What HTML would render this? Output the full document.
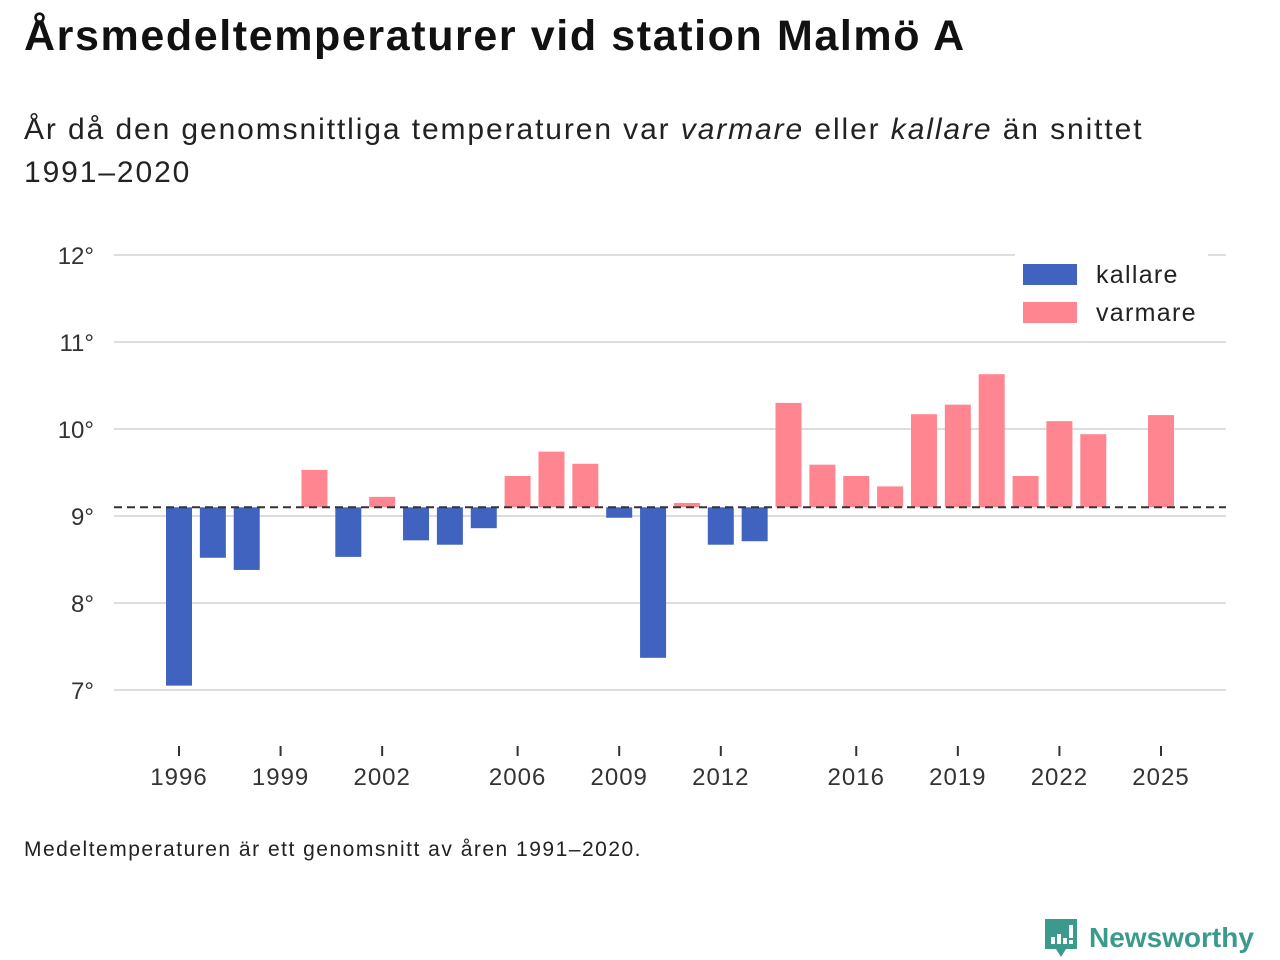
<!DOCTYPE html>
<html><head><meta charset="utf-8"><style>
body{margin:0;width:1280px;height:960px;background:#fff;font-family:"Liberation Sans",sans-serif;color:#111;position:relative;overflow:hidden}
#title{position:absolute;left:24px;top:12px;font-size:43px;font-weight:bold;margin:0;letter-spacing:1.6px}
#sub{position:absolute;left:24px;top:108px;font-size:30px;line-height:43px;color:#222;width:1180px;letter-spacing:1.9px}
#note{position:absolute;left:24px;top:838px;font-size:21px;color:#222;letter-spacing:1.5px}
#logo{position:absolute;left:1043px;top:917px;display:flex;align-items:center;color:#3a9a8c;font-size:28px;font-weight:bold}
</style></head><body>
<h1 id="title">Årsmedeltemperaturer vid station Malmö A</h1>
<div id="sub">År då den genomsnittliga temperaturen var <i>varmare</i> eller <i>kallare</i> än snittet 1991–2020</div>
<svg id="chart" width="1280" height="960" style="position:absolute;left:0;top:0"></svg>
<div id="note">Medeltemperaturen är ett genomsnitt av åren 1991–2020.</div>
<div id="logo"><svg width="36" height="42" viewBox="0 0 36 42"><path d="M2 2h32v30H23l-5 8-5-8H2z" fill="#3a9a8c"/><rect x="8" y="20" width="4" height="7" fill="#fff"/><rect x="14" y="17" width="4" height="10" fill="#fff"/><rect x="20" y="21" width="4" height="6" fill="#fff"/><rect x="26" y="8" width="4" height="13" fill="#fff"/><rect x="26" y="23" width="4" height="4" fill="#fff"/></svg><span style="margin-left:10px">Newsworthy</span></div>
<script>
const years=[1996,1997,1998,1999,2000,2001,2002,2003,2004,2005,2006,2007,2008,2009,2010,2011,2012,2013,2014,2015,2016,2017,2018,2019,2020,2021,2022,2023,2024,2025];
const temps=[7.05,8.52,8.38,9.1,9.53,8.53,9.22,8.72,8.67,8.86,9.46,9.74,9.60,8.98,7.37,9.15,8.67,8.71,10.30,9.59,9.46,9.34,10.17,10.28,10.63,9.46,10.09,9.94,9.1,10.16];
const baseline=9.1;
const yTicks=[7,8,9,10,11,12];
const xTicks=[1996,1999,2002,2006,2009,2012,2016,2019,2022,2025];
const NS="http://www.w3.org/2000/svg";
const svg=document.getElementById('chart');
const x=y=>179+(y-1996)*(1161-179)/29;
const yS=v=>690-(v-7)*87;
function mk(t,a,txt){const e=document.createElementNS(NS,t);for(const k in a)e.setAttribute(k,a[k]);if(txt!=null)e.textContent=txt;svg.appendChild(e);return e;}
yTicks.forEach(v=>{
 const l=mk('line',{x1:114,x2:1226,y1:yS(v),y2:yS(v),stroke:'#ddd','stroke-width':2});
 
 
 const t=mk('text',{x:94,y:yS(v)+9,'text-anchor':'end','font-size':24,fill:'#333'},v+'°');
 
 
});
years.forEach((yr,i)=>{
 const v=temps[i];
 const top=Math.min(yS(v),yS(baseline)),h=Math.abs(yS(v)-yS(baseline));
 const r=mk('rect',{x:x(yr)-13,y:top,width:26,height:h,fill:v<baseline?'#4063bf':'#ff8590'});
 
 
});
const bl=mk('line',{x1:114,x2:1226,y1:yS(baseline),y2:yS(baseline),stroke:'#333','stroke-width':2,'stroke-dasharray':'8,5'});


xTicks.forEach(yr=>{
 const l=mk('line',{x1:x(yr),x2:x(yr),y1:746,y2:756,stroke:'#333','stroke-width':2});
 
 
 const t=mk('text',{x:x(yr),y:785,'text-anchor':'middle','font-size':24,fill:'#333','letter-spacing':1},yr);
 
 
});
const lb=mk('rect',{x:1015,y:252,width:193,height:80,fill:'#fff'});


[['kallare','#4063bf',264],['varmare','#ff8590',302]].forEach(([n,c,yy])=>{
 const s=mk('rect',{x:1023,y:yy,width:54,height:21,fill:c});
 
 
 const t=mk('text',{x:1096,y:yy+19,'font-size':25,fill:'#222','letter-spacing':1.3},n);
 
 
});
</script>
</body></html>
